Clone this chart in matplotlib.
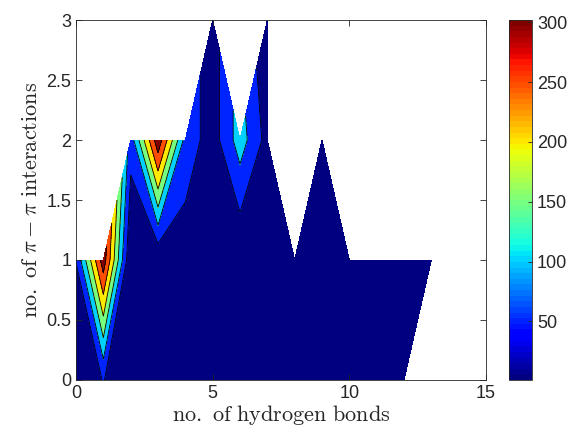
import numpy as np
import matplotlib
matplotlib.use("Agg")
import matplotlib.pyplot as plt
from matplotlib import colors as mcolors
from matplotlib.cm import ScalarMappable

nan = np.nan
# grid: number of hydrogen bonds (x) and number of pi-pi interactions (y)
hbonds = [0, 1, 2, 3, 4, 5, 6, 7, 8, 9, 10, 11, 12, 13]
pipi = [0, 1, 2, 3]
# counts per row (NaN = no occurrences)
counts_pipi0 = [10, 52, 5, 3, 6, 8, 4, 6, 3, 5, 4, 2, 1, nan]
counts_pipi1 = [51, 330, 1, 5, 22, 20, 1, 10, 5, 8, 3, 2, 2, 1]
counts_pipi2 = [nan, nan, 70, 335, 80, 25, 125, 31, nan, 5, nan, nan, nan, nan]
counts_pipi3 = [nan, nan, nan, nan, nan, 25, nan, 2, nan, nan, nan, nan, nan, nan]

levels = [0, 50, 100, 150, 200, 250, 300, 1000]
cbar_ticks = [50, 100, 150, 200, 250, 300]
clim = (1, 302)

plt.rcParams['font.family'] = ['Liberation Sans', 'DejaVu Sans']
plt.rcParams['mathtext.fontset'] = 'cm'

Z = np.ma.masked_invalid(np.array([counts_pipi0, counts_pipi1, counts_pipi2, counts_pipi3], dtype=float))
X, Y = np.meshgrid(hbonds, pipi)

cmap = plt.get_cmap('jet')
norm = mcolors.Normalize(vmin=clim[0], vmax=clim[1])
band_colors = [cmap(norm(max(l, clim[0]))) for l in levels[:-1]]

fig = plt.figure(figsize=(5.72, 4.38), dpi=100)
ax = fig.add_axes([76/572, 58/438, 410/572, 360/438])
ax.contourf(X, Y, Z, levels=levels, colors=band_colors, corner_mask=True)
ax.contour(X, Y, Z, levels=levels[1:-1], colors='k', linewidths=0.6, corner_mask=True)

ax.set_xlim(0, 15)
ax.set_ylim(0, 3)
ax.set_xticks([0, 5, 10, 15])
ax.set_yticks([0, 0.5, 1, 1.5, 2, 2.5, 3])
ax.set_yticklabels(['0', '0.5', '1', '1.5', '2', '2.5', '3'])
ax.tick_params(direction='in', top=True, right=True, length=4, width=0.6,
               colors='#262626', labelsize=13, labelcolor='#262626')
for s in ax.spines.values():
    s.set_color('#262626')
    s.set_linewidth(0.6)
ax.set_xlabel(r'$\mathrm{no.\ of\ hydrogen\ bonds}$', fontsize=16, color='#262626', labelpad=1)
ax.set_ylabel(r'$\mathrm{no.\ of\ }\pi-\pi\mathrm{\ interactions}$', fontsize=16, color='#262626', labelpad=3)

cax = fig.add_axes([509/572, 58/438, 23/572, 360/438])
sm = ScalarMappable(norm=norm, cmap=plt.get_cmap('jet', 64))
cb = fig.colorbar(sm, cax=cax, ticks=cbar_ticks)
cb.outline.set_edgecolor('#262626')
cb.outline.set_linewidth(0.6)
cax.tick_params(direction='in', length=3, width=0.6, colors='#262626', labelsize=13)

fig.savefig('out.png', dpi=100)
